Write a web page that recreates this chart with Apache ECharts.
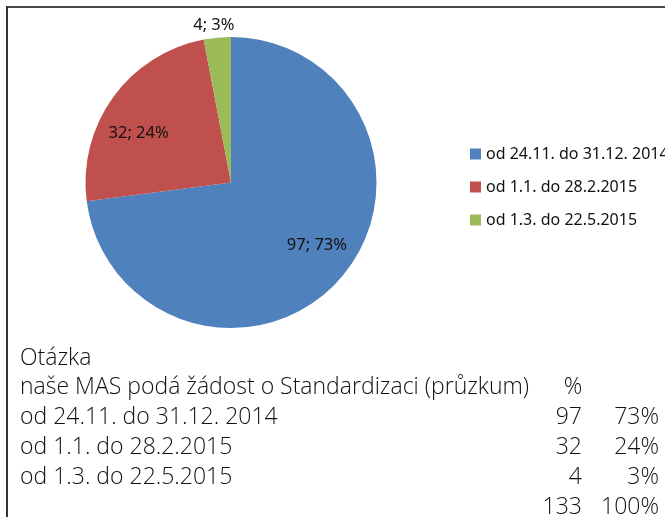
<!DOCTYPE html>
<html><head><meta charset="utf-8">
<script src="https://cdn.jsdelivr.net/npm/echarts@6/dist/echarts.min.js"></script>
<style>html,body{margin:0;padding:0;background:#fff}#c{width:665px;height:517px}</style>
</head><body><div id="c"></div>
<script>
var categories = ['od 24.11. do 31.12. 2014', 'od 1.1. do 28.2.2015', 'od 1.3. do 22.5.2015'];
var values = [97, 32, 4];
var percents = [73, 24, 3];
var totalValue = 133;
var totalPercent = 100;
var questionLabel = 'Otázka';
var questionText = 'naše MAS podá žádost o Standardizaci (průzkum)';
var percentHeader = '%';

var colors = ['#4F81BD', '#C0504D', '#9BBB59'];
var labelOffsets = [[29, 13], [-31, -5], [-10, -82]];
var FONT = 'Noto Sans';
var TFONT = 'Open Sans';

var chart = echarts.init(document.getElementById('c'), null, {renderer: 'canvas'});

var pieData = categories.map(function (n, i) {
  return {name: n, value: values[i], itemStyle: {color: colors[i]},
    label: {offset: labelOffsets[i]}};
});

var g = [];
g.push({type: 'line', shape: {x1: 6, y1: 7, x2: 665, y2: 7}, style: {stroke: '#4a4a4a', lineWidth: 2}});
g.push({type: 'line', shape: {x1: 7, y1: 6, x2: 7, y2: 517}, style: {stroke: '#333', lineWidth: 2}});
var rowY0 = 358, rowStep = 29.8, tfs = 23;
function txt(t, x, y, align) {
  g.push({type: 'text', x: x, y: y, style: {text: t, fill: '#111', font: '300 ' + tfs + 'px "' + TFONT + '"', textAlign: align || 'left', textVerticalAlign: 'middle'}});
}
txt(questionLabel, 20, rowY0);
txt(questionText, 20, rowY0 + rowStep);
txt(percentHeader, 573, rowY0 + rowStep, 'center');
categories.forEach(function (n, i) {
  var y = rowY0 + rowStep * (i + 2);
  txt(n, 20, y);
  txt(String(values[i]), 582, y, 'right');
  txt(percents[i] + '%', 659, y, 'right');
});
txt(String(totalValue), 582, rowY0 + rowStep * 5, 'right');
txt(totalPercent + '%', 659, rowY0 + rowStep * 5, 'right');

chart.setOption({
  animation: false,
  legend: {
    orient: 'vertical', left: 465, top: 139,
    icon: 'rect', itemWidth: 11, itemHeight: 11, itemGap: 13,
    textStyle: {fontFamily: FONT, fontSize: 16, color: '#111', lineHeight: 20},
    data: categories
  },
  series: [{
    type: 'pie', center: [231, 182.5], radius: 145.5, startAngle: 90, clockwise: true,
    avoidLabelOverlap: false,
    label: {show: true, position: 'inside', color: '#111', fontFamily: FONT, fontSize: 16.5,
      formatter: function (p) { return p.value + '; ' + Math.round(p.percent) + '%'; }},
    labelLine: {show: false},
    emphasis: {disabled: true},
    itemStyle: {borderWidth: 0},
    data: pieData
  }],
  graphic: g
});
</script></body></html>
